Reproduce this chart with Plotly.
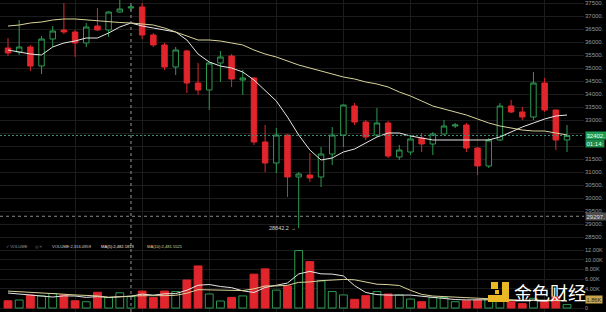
import plotly.graph_objects as go

# ---------------- data ----------------
candle_idx = list(range(51))

opens = [35769, 35615, 35808, 35077, 36115, 36462, 36385, 35962, 36615, 36462,
         37154, 37308, 37346, 36269, 35885, 35038, 35654, 34423, 34154, 35192,
         35462, 34538, 34615, 32154, 31346, 32423, 30808, 30885, 30808, 31692,
         32423, 33538, 32923, 32423, 32885, 31577, 31769, 32308, 32077, 32462,
         32769, 32808, 31923, 31231, 32231, 33538, 33308, 33115, 34423, 33385,
         32231]
highs = [36154, 36846, 35885, 36231, 36615, 37500, 36462, 36731, 37308, 37190,
         37650, 37423, 37500, 36346, 35962, 35808, 35700, 35192, 35220, 35654,
         35538, 34923, 34650, 32808, 32692, 32450, 31000, 31731, 31962, 32731,
         33600, 33654, 33000, 33462, 32960, 32040, 32423, 32500, 32538, 33000,
         32885, 32885, 31962, 32308, 33654, 33769, 33500, 34846, 34615, 33400,
         32808]
lows = [35462, 35500, 34885, 34769, 35808, 36300, 35423, 35808, 36420, 36192,
        37120, 37200, 36115, 35808, 34923, 34731, 34038, 33962, 33385, 34462,
        34269, 33962, 32040, 31000, 30962, 30038, 28842.2, 30615, 30423, 31269,
        31962, 32808, 32231, 32346, 31538, 31462, 31654, 31769, 31654, 32423,
        32692, 31769, 30885, 31154, 32190, 33269, 33000, 33000, 33308, 31846,
        31769]
closes = [35577, 35808, 35077, 36115, 36423, 36385, 35962, 36577, 36462, 37154,
          37269, 37346, 36269, 35885, 35038, 35692, 34423, 34154, 35192, 35423,
          34577, 34615, 32154, 31346, 32423, 30808, 30923, 30769, 31692, 32423,
          33577, 32923, 32346, 32885, 31615, 31846, 32269, 32077, 32462, 32769,
          32808, 31923, 31231, 32231, 33538, 33308, 33115, 34423, 33385, 32231,
          32402]

price_ma_fast = [35692, 35615, 35538, 35500, 35808, 35962, 36038, 36154, 36154, 36346,
                 36577, 36731, 36615, 36538, 36462, 36385, 36077, 35538, 35231, 35077,
                 35000, 34846, 34538, 34115, 33731, 33115, 32423, 31846, 31462, 31538,
                 31769, 31885, 32115, 32346, 32500, 32500, 32385, 32308, 32231, 32231,
                 32231, 32231, 32231, 32231, 32346, 32538, 32731, 32885, 33038, 33154,
                 33192]
price_ma_slow = [36615, 36654, 36731, 36769, 36846, 36885, 36885, 36846, 36808, 36769,
                 36750, 36731, 36692, 36654, 36538, 36385, 36231, 36077, 36077, 36038,
                 35962, 35885, 35692, 35538, 35423, 35269, 35115, 35000, 34885, 34769,
                 34654, 34577, 34462, 34385, 34269, 34077, 33923, 33731, 33538, 33423,
                 33308, 33192, 33038, 32885, 32769, 32692, 32615, 32577, 32577, 32500,
                 32423]

volumes = [1500, 1650, 2700, 2500, 3000, 2700, 1500, 1300, 3250, 2150,
           3150, 2350, 3500, 2150, 3500, 3400, 5800, 8700, 2900, 1450,
           2200, 2500, 7000, 8100, 3700, 4550, 11900, 9600, 5600, 3400,
           2700, 1800, 2550, 3400, 2900, 2700, 1850, 1300, 2150, 2150,
           1300, 1500, 1650, 1850, 1700, 1300, 900, 2000, 1300, 2300,
           700]
vol_ma5 = [3100, 2900, 2700, 2500, 2270, 2510, 2480, 2200, 2350, 2180,
           2270, 2440, 2880, 2660, 2930, 2980, 3670, 4710, 4860, 4450,
           4210, 3550, 3210, 4250, 4700, 5170, 7050, 7570, 7070, 7010,
           6640, 4620, 3210, 2770, 2670, 2670, 2680, 2430, 2180, 2030,
           1750, 1680, 1750, 1690, 1600, 1600, 1480, 1550, 1440, 1560,
           1440]
vol_ma10 = [3500, 3400, 3300, 3150, 3000, 2850, 2700, 2600, 2500, 2225,
            2390, 2460, 2540, 2505, 2555, 2625, 3055, 3795, 3760, 3690,
            3595, 3610, 3960, 4555, 4575, 4690, 5300, 5390, 5660, 5855,
            5905, 5835, 5390, 4920, 4840, 4655, 3650, 2820, 2475, 2350,
            2210, 2180, 2090, 1935, 1815, 1675, 1580, 1650, 1565, 1580,
            1520]

# 32500 / 32000 labels sit behind the last-price boxes in the reference
price_tick_vals = [28500, 29000, 29500, 30000, 30500, 31000, 31500,
                   33000, 33500, 34000, 34500, 35000, 35500, 36000, 36500, 37000, 37500]
price_tick_text = ["28500.", "29000.", "29500.", "30000.", "30500.",
                   "31000.", "31500.", "33000.",
                   "33500.", "34000.", "34500.", "35000.", "35500.",
                   "36000.", "36500.", "37000.", "37500."]
price_grid_vals = [28500, 29000, 29500, 30000, 30500, 31000, 31500, 32000, 32500,
                   33000, 33500, 34000, 34500, 35000, 35500, 36000, 36500, 37000, 37500]
vol_tick_vals = [0, 4000, 6000, 8000, 10000, 12000]
vol_tick_text = ["0", "4.00K", "6.00K", "8.00K", "10.00K", "12.00K"]
day_grid = [6, 12, 18, 24, 30, 36, 42, 48]

last_price = 32402.85
crosshair_idx = 11
crosshair_price = 29297.11
low_value = 28842.2
low_idx = 26

# ---------------- styling ----------------
RED = "#e0262c"
GREEN = "#2f9a52"
GRID = "#1c1c1c"
AXIS_TXT = "#9a9a9a"
FONT = "Liberation Sans"

W, H = 606, 312
PLOT_R = 584          # right edge of plot area in px
SPLIT = 240           # price/volume boundary in px from top

vol_fill = [("#000000" if c >= o else RED) for o, c in zip(opens, closes)]
vol_edge = [(GREEN if c >= o else RED) for o, c in zip(opens, closes)]

fig = go.Figure()
fig.add_trace(go.Candlestick(
    x=candle_idx, open=opens, high=highs, low=lows, close=closes,
    increasing=dict(line=dict(color=GREEN, width=1), fillcolor="#000000"),
    decreasing=dict(line=dict(color=RED, width=1), fillcolor=RED),
    whiskerwidth=0, hoverinfo="skip", showlegend=False, xaxis="x", yaxis="y"))
fig.add_trace(go.Scatter(x=candle_idx, y=price_ma_fast, mode="lines",
                         line=dict(color="#e6e6e6", width=1), hoverinfo="skip",
                         xaxis="x", yaxis="y"))
fig.add_trace(go.Scatter(x=candle_idx, y=price_ma_slow, mode="lines",
                         line=dict(color="#d8d49c", width=1), hoverinfo="skip",
                         xaxis="x", yaxis="y"))
fig.add_trace(go.Bar(x=candle_idx, y=volumes, width=0.7,
                     marker=dict(color=vol_fill, line=dict(color=vol_edge, width=1)),
                     hoverinfo="skip", xaxis="x2", yaxis="y2"))
fig.add_trace(go.Scatter(x=candle_idx, y=vol_ma5, mode="lines",
                         line=dict(color="#e6e6e6", width=1), hoverinfo="skip",
                         xaxis="x2", yaxis="y2"))
fig.add_trace(go.Scatter(x=candle_idx, y=vol_ma10, mode="lines",
                         line=dict(color="#d8d49c", width=1), hoverinfo="skip",
                         xaxis="x2", yaxis="y2"))

# axis geometry
px_per_price = 13 / 500.0
price_top = 37000 + 16 / px_per_price
price_bot = 37000 - (SPLIT - 16) / px_per_price
px_per_vol = 58 / 12000.0
vol_zero_px = 308
vol_top = (vol_zero_px - SPLIT) / px_per_vol
vol_bot = (vol_zero_px - H) / px_per_vol
split_frac = (H - SPLIT) / H

x_left = -8 / 11.18
x_right = (PLOT_R - 8) / 11.18

common_x = dict(range=[x_left, x_right], showticklabels=False, tickvals=day_grid,
                showgrid=True, gridcolor=GRID, gridwidth=1, zeroline=False,
                showline=False, ticks="", fixedrange=True)

fig.update_layout(
    width=W, height=H, margin=dict(l=0, r=W - PLOT_R, t=0, b=0),
    paper_bgcolor="#000000", plot_bgcolor="#000000", showlegend=False,
    font=dict(family=FONT, color=AXIS_TXT),
    xaxis=dict(domain=[0, 1], anchor="y", rangeslider=dict(visible=False), **common_x),
    xaxis2=dict(domain=[0, 1], anchor="y2", matches="x", **common_x),
    yaxis=dict(domain=[split_frac, 1], range=[price_bot, price_top], side="right",
               tickvals=price_tick_vals, ticktext=price_tick_text,
               tickfont=dict(size=6, color=AXIS_TXT, family=FONT),
               showgrid=False, zeroline=False, ticks="",
               automargin=False, anchor="x"),
    yaxis3=dict(domain=[split_frac, 1], range=[price_bot, price_top], overlaying="y",
                side="right", tickvals=price_grid_vals, showticklabels=False,
                showgrid=True, gridcolor=GRID, zeroline=False, ticks="",
                automargin=False, anchor="x", layer="below traces"),
    yaxis2=dict(domain=[0, split_frac], range=[vol_bot, vol_top], side="right",
                tickvals=vol_tick_vals, ticktext=vol_tick_text,
                tickfont=dict(size=5.6, color=AXIS_TXT, family=FONT),
                showgrid=True, gridcolor=GRID, zeroline=False, ticks="",
                automargin=False, anchor="x2"),
)
# invisible trace so the grid-only axis is drawn
fig.add_trace(go.Scatter(x=[candle_idx[0]], y=[closes[0]], mode="markers",
                         marker=dict(opacity=0), hoverinfo="skip",
                         xaxis="x", yaxis="y3"))

shapes = []
# crosshair vertical (through both panes)
shapes.append(dict(type="line", xref="x", yref="paper", x0=crosshair_idx, x1=crosshair_idx,
                   y0=0, y1=1, line=dict(color="#9a9a9a", width=1, dash="3px,3px")))
# crosshair horizontal
shapes.append(dict(type="line", xref="paper", yref="y", x0=0, x1=1,
                   y0=crosshair_price, y1=crosshair_price,
                   line=dict(color="#8a8a8a", width=1, dash="3px,3px")))
# last price line
shapes.append(dict(type="line", xref="paper", yref="y", x0=0, x1=1,
                   y0=last_price, y1=last_price,
                   line=dict(color="#3d8f78", width=1, dash="2px,2px")))

# watermark logo (decorative blocks)
def px_rect(x0, y0, x1, y1, color):
    return dict(type="rect", xref="paper", yref="paper",
                x0=x0 / PLOT_R, x1=x1 / PLOT_R, y0=1 - y1 / H, y1=1 - y0 / H,
                fillcolor=color, line=dict(width=0), layer="above")

GOLD = "#e9b824"
shapes += [
    px_rect(491, 282, 498, 289, GOLD),
    px_rect(502, 282, 509, 302, GOLD),
    px_rect(488, 295, 509, 302, GOLD),
    px_rect(495, 290, 499, 294, GOLD),
]
fig.update_layout(shapes=shapes)

ann = []
# price boxes on axis
box_font = dict(size=6, color="#e8ffe8", family=FONT)
ann.append(dict(xref="paper", yref="y", x=1, y=last_price, xanchor="left", yanchor="middle",
                xshift=1, text="32402.", showarrow=False, bgcolor="#1f9d55",
                font=box_font, borderpad=0.5))
ann.append(dict(xref="paper", yref="y", x=1, y=last_price, xanchor="left", yanchor="middle",
                xshift=1, yshift=-8, text="01:14:", showarrow=False, bgcolor="#1a8a4a",
                font=box_font, borderpad=0.5))
ann.append(dict(xref="paper", yref="y", x=1, y=crosshair_price, xanchor="left",
                yanchor="middle", xshift=1, text="29297.", showarrow=False,
                bgcolor="#4e4e4e", font=dict(size=6, color="#dddddd", family=FONT),
                borderpad=0.5))
ann.append(dict(xref="paper", yref="y2", x=1, y=1860, xanchor="left", yanchor="middle",
                xshift=1, text="1.86K", showarrow=False, bgcolor="#c9a64e",
                font=dict(size=5.6, color="#222222", family=FONT), borderpad=0.5))
# lowest price marker
ann.append(dict(xref="x", yref="y", x=low_idx, y=low_value, xanchor="right",
                yanchor="middle", xshift=-1, text="28842.2 →", showarrow=False,
                font=dict(size=5.5, color="#d0d0d0", family=FONT)))
# volume legend row
leg_y = 1 - 246 / H
for xpx, txt, col in [(4, "✓ VOLUME", "#9a9a9a"), (33, "◎ ✕", "#7a7a7a"),
                      (50, "VOLUME:2,316.0959", "#cfcfcf"),
                      (99, "MA(5):2,482.1819", "#e6e6e6"),
                      (145, "MA(10):2,481.5521", "#d8d49c")]:
    ann.append(dict(xref="paper", yref="paper", x=xpx / PLOT_R, y=leg_y, xanchor="left",
                    yanchor="middle", text=txt, showarrow=False,
                    font=dict(size=4.1, color=col, family=FONT)))
# watermark text
ann.append(dict(xref="paper", yref="paper", x=512 / PLOT_R, y=1 - 292 / H, xanchor="left",
                yanchor="middle", text="金色财经", showarrow=False,
                font=dict(size=18, color="#ffffff", family="Noto Sans CJK SC")))
fig.update_layout(annotations=ann)

fig.write_html("out.html", config={"displayModeBar": False})
